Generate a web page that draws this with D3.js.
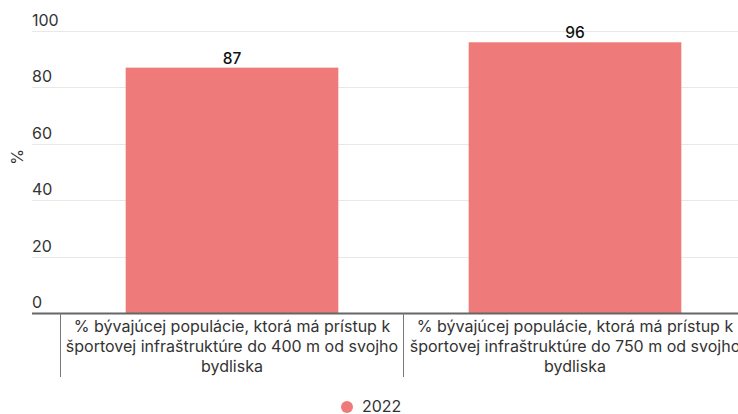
<!DOCTYPE html>
<html><head><meta charset="utf-8">
<script src="https://cdn.jsdelivr.net/npm/d3@7"></script>
<style>body{margin:0;background:#fff;}svg{display:block;font-family:Inter,"Noto Sans",sans-serif;}</style>
</head><body>
<svg id="c" width="738" height="414"></svg>
<script>
const categories = [
  ["% bývajúcej populácie, ktorá má prístup k", "športovej infraštruktúre do 400 m od svojho", "bydliska"],
  ["% bývajúcej populácie, ktorá má prístup k", "športovej infraštruktúre do 750 m od svojho", "bydliska"]
];
const values2022 = [87, 96];
const yTicks = [0, 20, 40, 60, 80, 100];
const seriesName = "2022";

(function () {
const svg = d3.select("#c");
const plotTop = 31, plotBottom = 313, plotLeft = 32, plotRight = 738;
const y = d3.scaleLinear().domain([0, 100]).range([plotBottom, plotTop]);
const x = d3.scaleBand().domain(d3.range(categories.length)).range([60.5, 746.5]).paddingInner(0.38).paddingOuter(0.19);
const color = "#ef7a7a";

// gridlines
svg.append("g").selectAll("line").data(yTicks.filter(d => d > 0)).join("line")
  .attr("x1", plotLeft).attr("x2", plotRight)
  .attr("y1", d => Math.round(y(d)) + 0.5).attr("y2", d => Math.round(y(d)) + 0.5)
  .attr("stroke", "#e8e8e8").attr("stroke-width", 1);

// y labels
svg.append("g").selectAll("text").data(yTicks).join("text")
  .attr("x", 32).attr("y", d => y(d) - 5)
  .attr("font-size", 16).attr("fill", "#333").text(d => d);

svg.append("text").attr("transform", "translate(23,157) rotate(-90)")
  .attr("text-anchor", "middle").attr("font-size", 16).attr("fill", "#333").text("%");

// bars
svg.append("g").selectAll("rect").data(values2022).join("rect")
  .attr("x", (d, i) => x(i)).attr("width", x.bandwidth())
  .attr("y", d => y(d)).attr("height", d => plotBottom - y(d))
  .attr("fill", color);

// value labels
svg.append("g").selectAll("text").data(values2022).join("text")
  .attr("x", (d, i) => x(i) + x.bandwidth() / 2).attr("y", d => y(d) - 4)
  .attr("text-anchor", "middle").attr("font-size", 15.5).attr("font-weight", 500)
  .attr("fill", "#111").text(d => d);

// x axis line
svg.append("line").attr("x1", plotLeft).attr("x2", plotRight)
  .attr("y1", plotBottom + 0.5).attr("y2", plotBottom + 0.5)
  .attr("stroke", "#666").attr("stroke-width", 2);

// category ticks (boundaries)
const step = x.step();
const boundaries = d3.range(categories.length + 1).map(i => 60.5 + i * step);
svg.append("g").selectAll("line").data(boundaries).join("line")
  .attr("x1", d => d).attr("x2", d => d).attr("y1", plotBottom).attr("y2", 377)
  .attr("stroke", "#777").attr("stroke-width", 1);

// category labels
const cl = svg.append("g").selectAll("text").data(categories).join("text")
  .attr("text-anchor", "middle").attr("font-size", 16).attr("fill", "#333");
cl.each(function(lines, i) {
  const t = d3.select(this);
  lines.forEach((ln, j) => {
    t.append("tspan").attr("x", x(i) + x.bandwidth() / 2).attr("y", 332 + j * 20).text(ln);
  });
});

// legend
svg.append("circle").attr("cx", 347).attr("cy", 407).attr("r", 6).attr("fill", color);
svg.append("text").attr("x", 362).attr("y", 412).attr("font-size", 16).attr("fill", "#333").text(seriesName);
})();
</script>
</body></html>
